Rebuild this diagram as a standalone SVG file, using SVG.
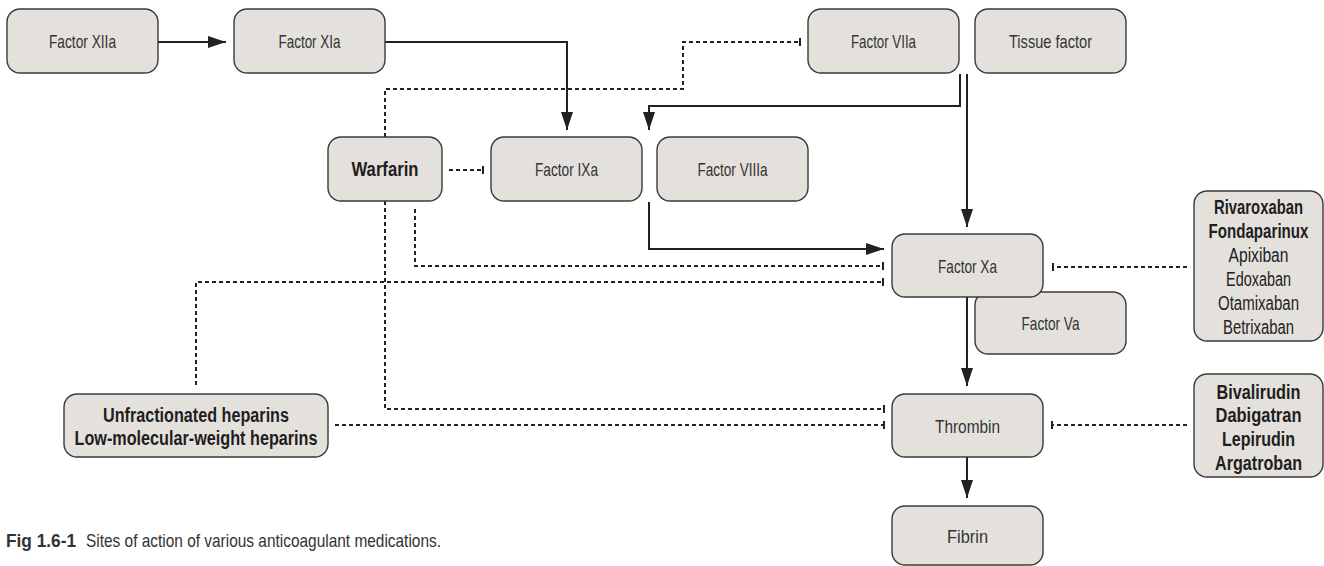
<svg xmlns="http://www.w3.org/2000/svg" width="1324" height="566" viewBox="0 0 1324 566">
  <style>
    .box { fill: #e4e1dd; stroke: #3a3a3a; stroke-width: 1.4; }
    .lbl { font-family: "Liberation Sans Narrow", "Liberation Sans", Arial, sans-serif; font-size: 18.5px; fill: #333; text-anchor: middle; }
    .drug { font-family: "Liberation Sans Narrow", "Liberation Sans", Arial, sans-serif; font-size: 19.5px; fill: #222; text-anchor: middle; }
    .b { font-weight: bold; fill: #1e1e1e; }
    .act { fill: none; stroke: #222; stroke-width: 2; }
    .inh { fill: none; stroke: #222; stroke-width: 2; stroke-dasharray: 4 3; }
    .cap { font-family: "Liberation Sans Narrow", "Liberation Sans", Arial, sans-serif; font-size: 19px; fill: #333; }
  </style>
  <defs>
    <marker id="arrow" markerUnits="userSpaceOnUse" markerWidth="18" markerHeight="12" refX="18" refY="6" orient="auto" overflow="visible">
      <path d="M0,0 L18,6 L0,12 Z" fill="#222"/>
    </marker>
    <marker id="bar" markerUnits="userSpaceOnUse" markerWidth="4" markerHeight="10" refX="1" refY="5" orient="auto" overflow="visible">
      <path d="M1,1 V9" stroke="#222" stroke-width="2" fill="none"/>
    </marker>
  </defs>

  <!-- connectors -->
  <g id="connectors">
    <!-- activation pathway -->
    <path class="act" d="M158,42 H226" marker-end="url(#arrow)"/>
    <path class="act" d="M385,42 H567 V130" marker-end="url(#arrow)"/>
    <path class="act" d="M960,74 V106 H649 V130" marker-end="url(#arrow)"/>
    <path class="act" d="M967,74 V227" marker-end="url(#arrow)"/>
    <path class="act" d="M649,202 V249 H884" marker-end="url(#arrow)"/>
    <path class="act" d="M967,297 V386" marker-end="url(#arrow)"/>
    <path class="act" d="M967,457 V498" marker-end="url(#arrow)"/>
    <!-- inhibition sites -->
    <path class="inh" d="M385,137 V89 H683 V42 H800" marker-end="url(#bar)"/>
    <path class="inh" d="M449,170 H483" marker-end="url(#bar)"/>
    <path class="inh" d="M415,209 V266 H883" marker-end="url(#bar)"/>
    <path class="inh" d="M385,201 V409 H884" marker-end="url(#bar)"/>
    <path class="inh" d="M196,385 V282 H883" marker-end="url(#bar)"/>
    <path class="inh" d="M335,425 H884" marker-end="url(#bar)"/>
    <path class="inh" d="M1187,267 H1053" marker-end="url(#bar)"/>
    <path class="inh" d="M1187,425 H1052" marker-end="url(#bar)"/>
  </g>

  <g id="factor-xiia">
    <rect class="box" x="7" y="9" width="151" height="64" rx="13"/>
    <text class="lbl" x="82.5" y="48" textLength="67" lengthAdjust="spacingAndGlyphs">Factor XIIa</text>
  </g>
  <g id="factor-xia">
    <rect class="box" x="234" y="9" width="151" height="64" rx="13"/>
    <text class="lbl" x="309.5" y="48" textLength="62" lengthAdjust="spacingAndGlyphs">Factor XIa</text>
  </g>
  <g id="factor-viia">
    <rect class="box" x="808" y="9" width="151" height="64" rx="13"/>
    <text class="lbl" x="883.5" y="48" textLength="65" lengthAdjust="spacingAndGlyphs">Factor VIIa</text>
  </g>
  <g id="tissue-factor">
    <rect class="box" x="975" y="9" width="151" height="64" rx="13"/>
    <text class="lbl" x="1050.5" y="48" textLength="83" lengthAdjust="spacingAndGlyphs">Tissue factor</text>
  </g>
  <g id="warfarin">
    <rect class="box" x="328" y="137" width="114" height="64" rx="13"/>
    <text class="drug b" x="385" y="176" textLength="67" lengthAdjust="spacingAndGlyphs">Warfarin</text>
  </g>
  <g id="factor-ixa">
    <rect class="box" x="491" y="137" width="151" height="64" rx="13"/>
    <text class="lbl" x="566.5" y="176" textLength="63" lengthAdjust="spacingAndGlyphs">Factor IXa</text>
  </g>
  <g id="factor-viiia">
    <rect class="box" x="657" y="137" width="151" height="64" rx="13"/>
    <text class="lbl" x="732.5" y="176" textLength="70" lengthAdjust="spacingAndGlyphs">Factor VIIIa</text>
  </g>
  <g id="factor-va">
    <rect class="box" x="975" y="292" width="151" height="62" rx="13"/>
    <text class="lbl" x="1050.5" y="330" textLength="58" lengthAdjust="spacingAndGlyphs">Factor Va</text>
  </g>
  <g id="factor-xa">
    <rect class="box" x="892" y="234" width="151" height="63" rx="13"/>
    <text class="lbl" x="967.5" y="273" textLength="59" lengthAdjust="spacingAndGlyphs">Factor Xa</text>
  </g>
  <g id="xa-inhibitors">
    <rect class="box" x="1194" y="191" width="129" height="150" rx="13"/>
    <text class="drug b" x="1258.5" y="214" textLength="89" lengthAdjust="spacingAndGlyphs">Rivaroxaban</text>
    <text class="drug b" x="1258.5" y="238" textLength="100" lengthAdjust="spacingAndGlyphs">Fondaparinux</text>
    <text class="drug" x="1258.5" y="262" textLength="60" lengthAdjust="spacingAndGlyphs">Apixiban</text>
    <text class="drug" x="1258.5" y="286" textLength="65" lengthAdjust="spacingAndGlyphs">Edoxaban</text>
    <text class="drug" x="1258.5" y="310" textLength="81" lengthAdjust="spacingAndGlyphs">Otamixaban</text>
    <text class="drug" x="1258.5" y="334" textLength="71" lengthAdjust="spacingAndGlyphs">Betrixaban</text>
  </g>
  <g id="heparins">
    <rect class="box" x="64" y="394" width="264" height="63" rx="13"/>
    <text class="drug b" x="196" y="422" textLength="186" lengthAdjust="spacingAndGlyphs">Unfractionated heparins</text>
    <text class="drug b" x="196" y="445" textLength="243" lengthAdjust="spacingAndGlyphs">Low-molecular-weight heparins</text>
  </g>
  <g id="thrombin">
    <rect class="box" x="892" y="394" width="151" height="63" rx="13"/>
    <text class="lbl" x="967.5" y="433" textLength="65" lengthAdjust="spacingAndGlyphs">Thrombin</text>
  </g>
  <g id="thrombin-inhibitors">
    <rect class="box" x="1194" y="374" width="129" height="103" rx="13"/>
    <text class="drug b" x="1258.5" y="399" textLength="84" lengthAdjust="spacingAndGlyphs">Bivalirudin</text>
    <text class="drug b" x="1258.5" y="422" textLength="86" lengthAdjust="spacingAndGlyphs">Dabigatran</text>
    <text class="drug b" x="1258.5" y="446" textLength="73" lengthAdjust="spacingAndGlyphs">Lepirudin</text>
    <text class="drug b" x="1258.5" y="470" textLength="87" lengthAdjust="spacingAndGlyphs">Argatroban</text>
  </g>
  <g id="fibrin">
    <rect class="box" x="892" y="506" width="151" height="59" rx="13"/>
    <text class="lbl" x="967.5" y="543" textLength="41" lengthAdjust="spacingAndGlyphs">Fibrin</text>
  </g>

  <g id="caption">
    <text class="cap b" x="6" y="547" textLength="70" lengthAdjust="spacingAndGlyphs">Fig 1.6-1</text>
    <text class="cap" x="86" y="547" textLength="355" lengthAdjust="spacingAndGlyphs">Sites of action of various anticoagulant medications.</text>
  </g>
</svg>
